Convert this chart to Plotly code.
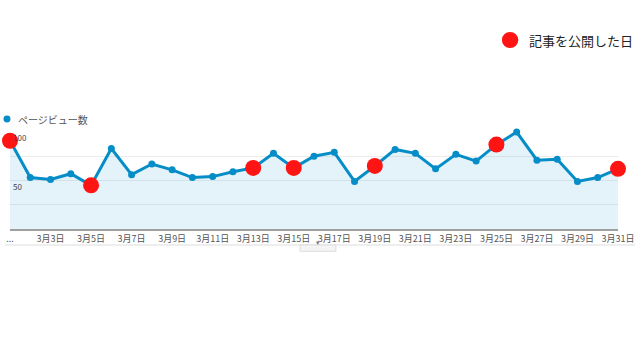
import plotly.graph_objects as go

days = list(range(1, 32))
pageviews = [91, 53, 51, 57, 45, 83, 56, 67, 61, 53, 54, 59, 63, 78, 63, 75, 79, 49,
             65, 82, 78, 62, 77, 70, 87, 100, 71, 72, 49, 53, 62]
publish_days = [1, 5, 13, 15, 19, 25, 31]
tick_days = [1] + list(range(3, 32, 2))
tick_text = ["..."] + [f"3月{d}日" for d in range(3, 32, 2)]
ygrid_vals = [0, 25, 50, 75, 100]
ylabel_vals = [50, 100]
ylabel_text = ["50", "100"]

BLUE = "#058dc7"
RED = "#ff1414"
FONT = "Noto Sans CJK JP"

fig = go.Figure()
fig.add_trace(go.Scatter(
    x=days, y=pageviews, mode="lines+markers", fill="tozeroy",
    fillcolor="rgba(5,141,199,0.11)",
    line=dict(color=BLUE, width=3), marker=dict(color=BLUE, size=7),
    cliponaxis=False, showlegend=False, hoverinfo="skip"))

# y labels sit just below their gridlines, GA style
for v, t in zip(ylabel_vals, ylabel_text):
    fig.add_annotation(text=t, x=0, xref="paper", y=v, yref="y",
                       xanchor="left", yanchor="top", xshift=1, yshift=2,
                       showarrow=False, font=dict(size=8, color="#444", family=FONT))

fig.add_trace(go.Scatter(
    x=publish_days, y=[pageviews[d - 1] for d in publish_days], mode="markers",
    marker=dict(color=RED, size=16), cliponaxis=False, showlegend=False,
    hoverinfo="skip"))

fig.update_layout(
    width=640, height=360, margin=dict(l=10, r=22, t=132, b=131),
    paper_bgcolor="white", plot_bgcolor="white",
    font=dict(family=FONT, color="#555"),
    showlegend=False,
    xaxis=dict(range=[1, 31], tickvals=tick_days, ticktext=tick_text,
               tickfont=dict(size=9, color="#555"), showgrid=False,
               showline=True, linecolor="#a0a0a0", linewidth=2, ticks="",
               zeroline=False, fixedrange=True, automargin=False),
    yaxis=dict(range=[0, 100], tickvals=ygrid_vals, showticklabels=False,
               showgrid=True, gridcolor="#ececec", gridwidth=1, zeroline=False,
               ticks="", showline=False, fixedrange=True, automargin=False),
)

# legend: ページビュー数
fig.add_shape(type="circle", xref="paper", yref="paper",
              x0=-0.0107, x1=0.0008, y0=1.098, y1=1.170,
              fillcolor=BLUE, line=dict(width=0))
fig.add_annotation(text="ページビュー数", xref="paper", yref="paper",
                   x=0.0099, y=1.134, xanchor="left", yanchor="middle",
                   showarrow=False, font=dict(size=10, color="#555", family=FONT))
# legend: 記事を公開した日
fig.add_shape(type="circle", xref="paper", yref="paper",
              x0=0.809, x1=0.836, y0=1.866, y1=2.031,
              fillcolor=RED, line=dict(width=0))
fig.add_annotation(text="記事を公開した日", xref="paper", yref="paper",
                   x=0.851, y=1.948, xanchor="left", yanchor="middle",
                   showarrow=False, font=dict(size=13, color="#222", family=FONT))
# bottom rule and tab
fig.add_shape(type="line", xref="paper", yref="paper",
              x0=-0.008, x1=1.028, y0=-0.165, y1=-0.165,
              line=dict(color="#dddddd", width=1))
fig.add_shape(type="rect", xref="paper", yref="paper",
              x0=0.477, x1=0.536, y0=-0.165, y1=-0.23,
              fillcolor="#f4f4f4", line=dict(color="#dddddd", width=1))
fig.add_annotation(text="▾", xref="paper", yref="paper", x=0.5065, y=-0.205,
                   showarrow=False, font=dict(size=7, color="#777"))

fig.write_html("out.html", config={"displayModeBar": False},
               post_script="document.body.style.margin='0';document.body.style.overflow='hidden';")
